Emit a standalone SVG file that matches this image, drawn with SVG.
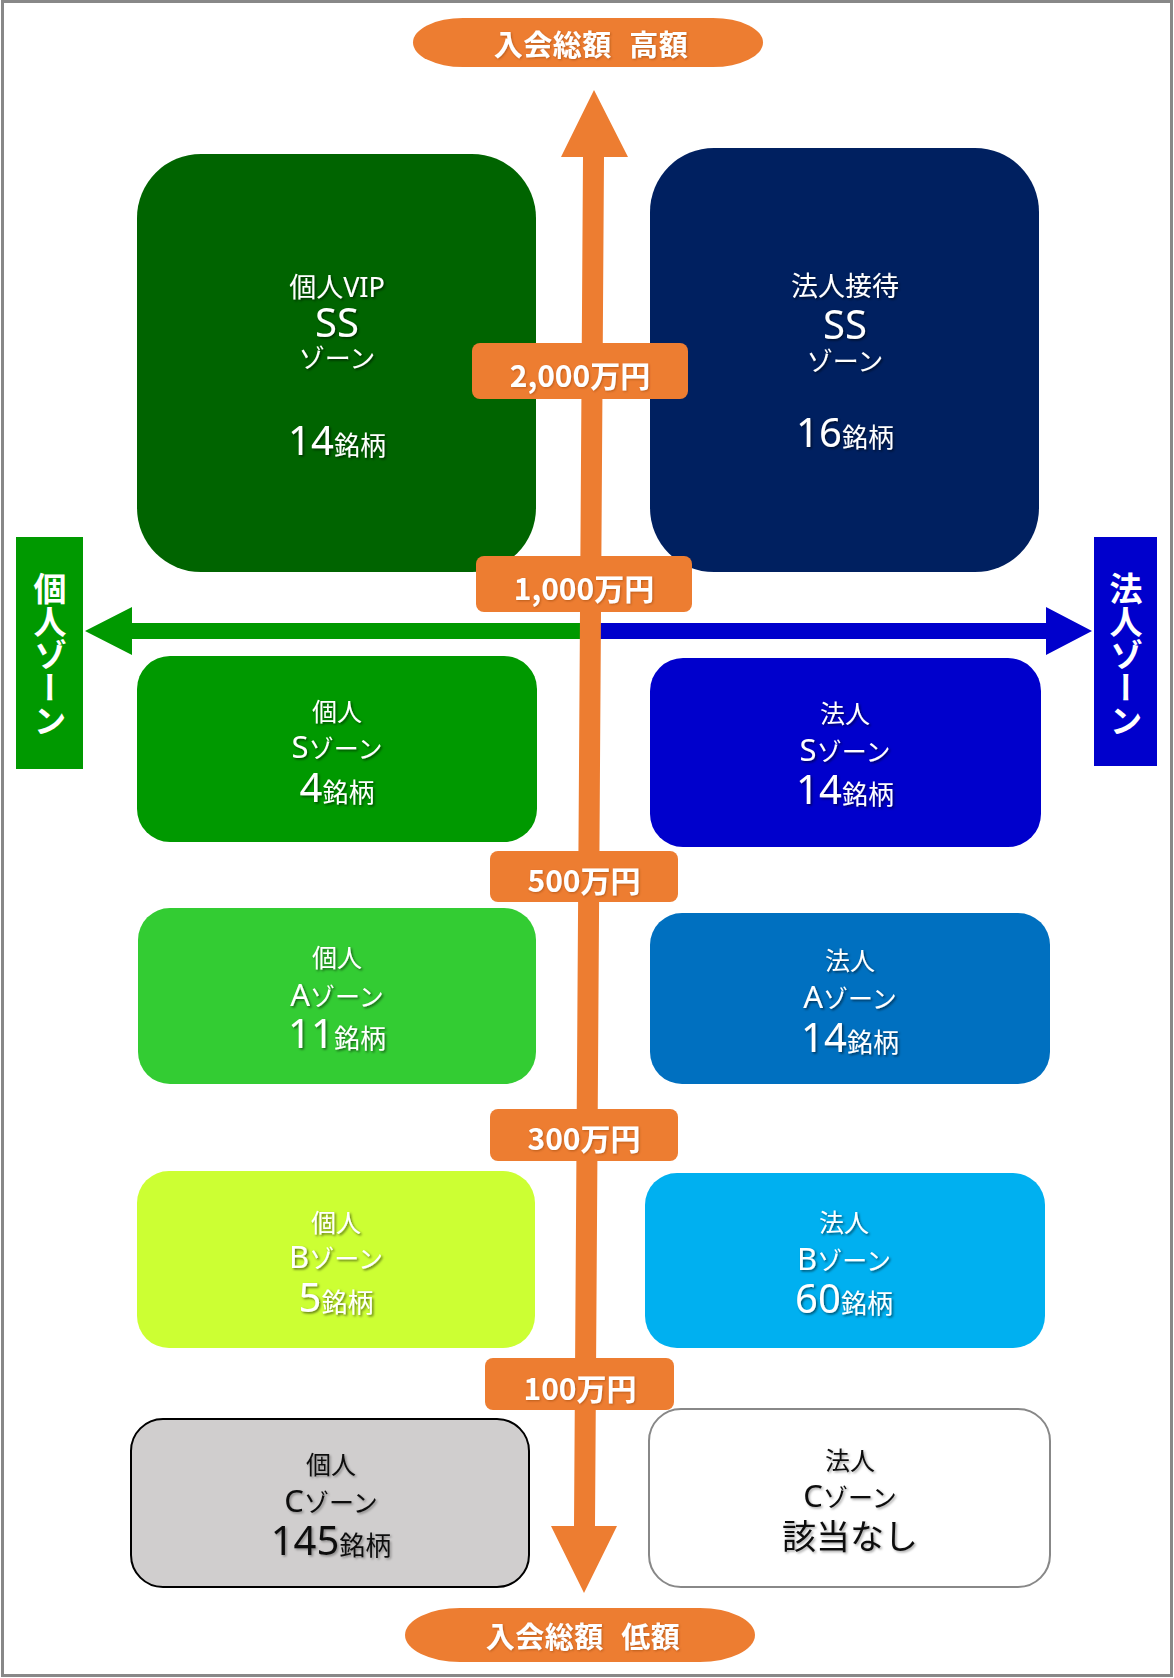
<svg xmlns="http://www.w3.org/2000/svg" width="1174" height="1678" viewBox="0 0 1174 1678">
<defs>
<style>
text{font-family:"Noto Sans","Noto Sans CJK JP",sans-serif;text-anchor:middle}
.w{fill:#fff;filter:url(#sh)}
.k{fill:#111;filter:url(#shg)}
.lab{fill:#fff;font-weight:bold;font-size:30px;font-family:"Noto Sans CJK JP",sans-serif;filter:url(#shl)}
.pill{fill:#fff;font-weight:bold;font-size:29px;font-family:"Noto Sans CJK JP",sans-serif;filter:url(#shl)}
.vt{fill:#fff;font-weight:bold;font-size:33px;font-family:"Noto Sans CJK JP",sans-serif;writing-mode:vertical-rl}
.or{fill:#ED7D31}
</style>
<filter id="sh" x="-20%" y="-30%" width="140%" height="160%"><feDropShadow dx="1.5" dy="1.5" stdDeviation="1" flood-color="#000" flood-opacity="0.55"/></filter>
<filter id="shg" x="-20%" y="-30%" width="140%" height="160%"><feDropShadow dx="1.5" dy="1.5" stdDeviation="1" flood-color="#000" flood-opacity="0.35"/></filter>
<filter id="shl" x="-20%" y="-30%" width="140%" height="160%"><feDropShadow dx="1" dy="1" stdDeviation="0.8" flood-color="#7a3000" flood-opacity="0.45"/></filter>
</defs>
<rect x="0" y="0" width="1174" height="1678" fill="#fff"/>
<rect x="2.5" y="1.5" width="1169" height="1674" fill="none" stroke="#888" stroke-width="3"/>

<g id="pill-top">
<rect x="413" y="18" width="350" height="49" rx="50" ry="24.5" class="or"/>
<text x="591" y="56" class="pill" letter-spacing="0.5">入会総額<tspan dx="-6">　</tspan><tspan dx="-6">高額</tspan></text>
</g>
<g id="pill-bottom">
<rect x="405" y="1608" width="350" height="54" rx="55" ry="27" class="or"/>
<text x="583" y="1648" class="pill" letter-spacing="0.5">入会総額<tspan dx="-6">　</tspan><tspan dx="-6">低額</tspan></text>
</g>

<g id="kojin-ss">
<rect x="137" y="154" width="399" height="418" rx="64" fill="#006400"/>
<text x="337" y="297" class="w" font-size="27">個人VIP</text>
<text x="337" y="337" class="w" font-size="40">SS</text>
<text x="337" y="368" class="w" font-size="26">ゾーン</text>
<text x="337" y="455" class="w"><tspan font-size="40">14</tspan><tspan font-size="26">銘柄</tspan></text>
</g>
<g id="houjin-ss">
<rect x="650" y="148" width="389" height="424" rx="64" fill="#002060"/>
<text x="845" y="296" class="w" font-size="27">法人接待</text>
<text x="845" y="339" class="w" font-size="40">SS</text>
<text x="845" y="371" class="w" font-size="26">ゾーン</text>
<text x="845" y="447" class="w"><tspan font-size="40">16</tspan><tspan font-size="26">銘柄</tspan></text>
</g>

<g id="kojin-zone">
<rect x="16" y="537" width="67" height="232" fill="#009900"/>
<text x="50" y="654" class="vt">個人ゾーン</text>
</g>
<g id="houjin-zone">
<rect x="1094" y="537" width="63" height="229" fill="#0000CC"/>
<text x="1126" y="654" class="vt">法人ゾーン</text>
</g>

<g id="kojin-s">
<rect x="137" y="656" width="400" height="186" rx="33" fill="#009900"/>
<text x="337" y="721" class="w" font-size="25">個人</text>
<text x="337" y="758" class="w"><tspan font-size="31">S</tspan><tspan font-size="25">ゾーン</tspan></text>
<text x="337" y="802" class="w"><tspan font-size="40">4</tspan><tspan font-size="26">銘柄</tspan></text>
</g>
<g id="houjin-s">
<rect x="650" y="658" width="391" height="189" rx="33" fill="#0000CC"/>
<text x="845" y="723" class="w" font-size="25">法人</text>
<text x="845" y="761" class="w"><tspan font-size="31">S</tspan><tspan font-size="25">ゾーン</tspan></text>
<text x="845" y="804" class="w"><tspan font-size="40">14</tspan><tspan font-size="26">銘柄</tspan></text>
</g>

<g id="kojin-a">
<rect x="138" y="908" width="398" height="176" rx="32" fill="#33CC33"/>
<text x="337" y="967" class="w" font-size="25">個人</text>
<text x="337" y="1006" class="w"><tspan font-size="31">A</tspan><tspan font-size="25">ゾーン</tspan></text>
<text x="337" y="1048" class="w"><tspan font-size="40">11</tspan><tspan font-size="26">銘柄</tspan></text>
</g>
<g id="houjin-a">
<rect x="650" y="913" width="400" height="171" rx="32" fill="#0070C0"/>
<text x="850" y="970" class="w" font-size="25">法人</text>
<text x="850" y="1008" class="w"><tspan font-size="31">A</tspan><tspan font-size="25">ゾーン</tspan></text>
<text x="850" y="1052" class="w"><tspan font-size="40">14</tspan><tspan font-size="26">銘柄</tspan></text>
</g>

<g id="kojin-b">
<rect x="137" y="1171" width="398" height="177" rx="32" fill="#CCFF33"/>
<text x="336" y="1232" class="w" font-size="25">個人</text>
<text x="336" y="1268" class="w"><tspan font-size="31">B</tspan><tspan font-size="25">ゾーン</tspan></text>
<text x="336" y="1312" class="w"><tspan font-size="40">5</tspan><tspan font-size="26">銘柄</tspan></text>
</g>
<g id="houjin-b">
<rect x="645" y="1173" width="400" height="175" rx="32" fill="#00B0F0"/>
<text x="844" y="1232" class="w" font-size="25">法人</text>
<text x="844" y="1270" class="w"><tspan font-size="31">B</tspan><tspan font-size="25">ゾーン</tspan></text>
<text x="844" y="1313" class="w"><tspan font-size="40">60</tspan><tspan font-size="26">銘柄</tspan></text>
</g>

<g id="kojin-c">
<rect x="131" y="1419" width="398" height="168" rx="32" fill="#D0CECE" stroke="#000" stroke-width="2"/>
<text x="331" y="1474" class="k" font-size="25">個人</text>
<text x="331" y="1512" class="k"><tspan font-size="31">C</tspan><tspan font-size="25">ゾーン</tspan></text>
<text x="331" y="1555" class="k"><tspan font-size="40">145</tspan><tspan font-size="26">銘柄</tspan></text>
</g>
<g id="houjin-c">
<rect x="649" y="1409" width="401" height="178" rx="32" fill="#fff" stroke="#888" stroke-width="2"/>
<text x="850" y="1470" class="k" font-size="25">法人</text>
<text x="850" y="1507" class="k"><tspan font-size="31">C</tspan><tspan font-size="25">ゾーン</tspan></text>
<text x="850" y="1549" class="k" font-size="34">該当なし</text>
</g>

<g id="connectors">
<polygon points="85,631 132,607 132,623 588,623 588,639 132,639 132,655" fill="#009900"/>
<polygon points="590,623 1046,623 1046,607 1092,631 1046,655 1046,639 590,639" fill="#0000CC"/>
<polygon points="594,90 628,157 604,157 595,1526 617,1526 584,1593 551,1526 574,1526 583,157 561,157" class="or"/>
</g>

<g id="thresholds">
<g id="t2000"><rect x="472" y="343" width="216" height="56" rx="8" class="or"/><text x="580" y="387" class="lab">2,000万円</text></g>
<g id="t1000"><rect x="476" y="556" width="216" height="56" rx="8" class="or"/><text x="584" y="600" class="lab">1,000万円</text></g>
<g id="t500"><rect x="490" y="851" width="188" height="51" rx="8" class="or"/><text x="584" y="892" class="lab">500万円</text></g>
<g id="t300"><rect x="490" y="1109" width="188" height="52" rx="8" class="or"/><text x="584" y="1150" class="lab">300万円</text></g>
<g id="t100"><rect x="485" y="1358" width="189" height="52" rx="8" class="or"/><text x="580" y="1400" class="lab">100万円</text></g>
</g>
</svg>
